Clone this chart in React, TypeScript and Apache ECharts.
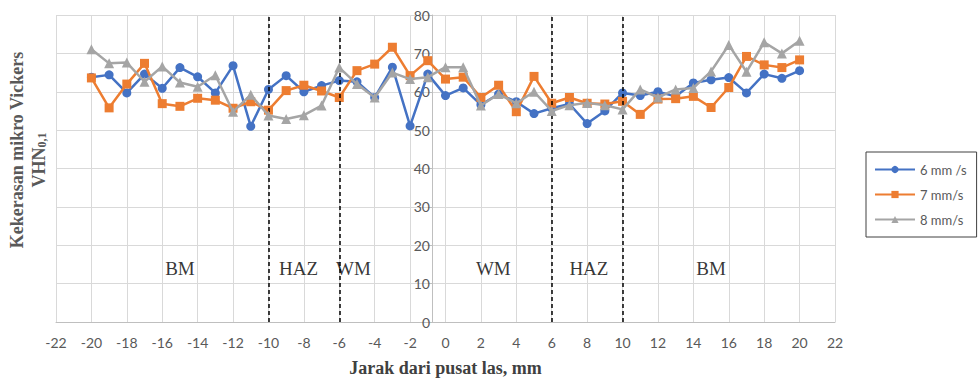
import React, { useEffect, useRef } from "react";
import * as echarts from "echarts";

const distances = [-20, -19, -18, -17, -16, -15, -14, -13, -12, -11, -10, -9, -8, -7, -6, -5, -4, -3, -2, -1, 0, 1, 2, 3, 4, 5, 6, 7, 8, 9, 10, 11, 12, 13, 14, 15, 16, 17, 18, 19, 20];

const speed6 = [63.8, 64.4, 59.7, 64.6, 60.9, 66.3, 63.9, 59.7, 66.8, 51.0, 60.6, 64.2, 60.0, 61.6, 62.9, 62.6, 58.5, 66.4, 51.1, 64.6, 59.0, 61.0, 56.6, 59.4, 57.4, 54.3, 55.7, 56.8, 51.7, 55.0, 59.7, 59.0, 60.0, 58.8, 62.3, 63.1, 63.7, 59.7, 64.6, 63.5, 65.5];

const speed7 = [63.6, 55.8, 62.0, 67.4, 56.9, 56.2, 58.3, 57.8, 55.7, 57.4, 55.2, 60.3, 61.7, 60.2, 58.5, 65.5, 67.2, 71.6, 64.2, 68.1, 63.3, 63.8, 58.5, 61.7, 54.8, 64.0, 57.0, 58.5, 57.0, 56.8, 57.5, 54.1, 58.1, 58.2, 58.8, 55.9, 61.1, 69.2, 67.0, 66.3, 68.3];

const speed8 = [71.1, 67.4, 67.6, 62.6, 66.6, 62.4, 61.3, 64.3, 54.8, 59.2, 53.8, 52.9, 53.9, 56.4, 66.3, 62.0, 58.5, 65.0, 63.3, 63.8, 66.4, 66.4, 56.4, 59.4, 57.0, 60.0, 55.0, 56.5, 57.1, 56.5, 55.4, 60.6, 58.5, 60.6, 61.0, 65.3, 72.2, 65.2, 72.9, 70.0, 73.3];

const seriesNames = ["6 mm /s", "7 mm/s", "8 mm/s"];
const zoneBoundaries = [-10, -6, 6, 10];
const zoneNames = ["BM", "HAZ", "WM", "WM", "HAZ", "BM"];
const zoneLabelX = [-15.0, -8.3, -5.2, 2.7, 8.1, 15.0];
const zoneLabelY = [14, 14, 14, 14, 14, 14];

const xMin = -22;
const xMax = 22;
const xStep = 2;
const yMin = 0;
const yMax = 80;
const yStep = 10;

const COLORS = ["#4472C4", "#ED7D31", "#A5A5A5"];
const SYMBOLS = ["circle", "rect", "triangle"];
const SIZES = [9, 9, 10];
const sans = "Lato, 'Noto Sans', sans-serif";
const serif = "'Liberation Serif', 'DejaVu Serif', serif";

export default function App() {
  const ref = useRef<HTMLDivElement>(null);
  useEffect(() => {
    if (!ref.current) return;
    const chart = echarts.init(ref.current, null, { renderer: "svg" });
    const allSeries = [speed6, speed7, speed8];
    const lineSeries: any[] = allSeries.map((vals, i) => ({
      name: seriesNames[i],
      type: "line",
      data: vals.map((v, j) => [distances[j], v]),
      symbol: SYMBOLS[i],
      symbolSize: SIZES[i],
      showSymbol: true,
      itemStyle: { color: COLORS[i] },
      lineStyle: { color: COLORS[i], width: 2.5 },
      z: 3 + i,
    }));
    lineSeries[0].markLine = {
      silent: true,
      symbol: "none",
      label: { show: false },
      lineStyle: { color: "#000", type: [4, 3], width: 1.5 },
      data: zoneBoundaries.map((x) => ({ xAxis: x })),
    };
    const zoneSeries = {
      name: "zones",
      type: "scatter",
      symbolSize: 0,
      silent: true,
      data: zoneNames.map((n, i) => ({ name: n, value: [zoneLabelX[i], zoneLabelY[i]] })),
      label: {
        show: true,
        position: "inside",
        formatter: (p: any) => p.name,
        color: "#000",
        fontFamily: serif,
        fontSize: 19,
      },
      z: 10,
    };
    chart.setOption({
      animation: false,
      backgroundColor: "#fff",
      grid: { left: 56, right: 145, top: 15, bottom: 61, containLabel: false },
      xAxis: {
        type: "value",
        min: xMin,
        max: xMax,
        interval: xStep,
        name: "Jarak dari pusat las, mm",
        nameLocation: "middle",
        nameGap: 37,
        nameTextStyle: { fontFamily: serif, fontWeight: "bold", fontSize: 18, color: "#404040" },
        axisLine: { onZero: false, lineStyle: { color: "#bfbfbf", width: 1 } },
        axisTick: { show: false },
        axisLabel: { color: "#595959", fontFamily: sans, fontSize: 14, margin: 13 },
        splitLine: { show: true, lineStyle: { color: "#d9d9d9", width: 1 } },
      },
      yAxis: {
        type: "value",
        min: yMin,
        max: yMax,
        interval: yStep,
        position: "left",
        offset: -376,
        axisLine: { show: true, onZero: false, lineStyle: { color: "#bfbfbf", width: 1 } },
        axisTick: { show: true, length: 4, lineStyle: { color: "#bfbfbf" } },
        axisLabel: { color: "#595959", fontFamily: sans, fontSize: 14, margin: 2 },
        splitLine: { show: true, lineStyle: { color: "#d9d9d9", width: 1 } },
      },
      legend: {
        data: seriesNames,
        orient: "vertical",
        left: 866,
        top: 152,
        padding: [11, 10, 11, 8],
        itemGap: 12,
        itemWidth: 40,
        itemHeight: 9,
        borderColor: "#404040",
        borderWidth: 1,
        textStyle: { color: "#595959", fontFamily: sans, fontSize: 13 },
      },
      graphic: [
        {
          type: "text",
          x: 17,
          y: 150,
          rotation: Math.PI / 2,
          style: {
            text: "Kekerasan mikro Vickers",
            fill: "#595959",
            font: `bold 18px ${serif}`,
            align: "center",
            verticalAlign: "middle",
          },
        },
        {
          type: "text",
          x: 38,
          y: 160,
          rotation: Math.PI / 2,
          style: {
            text: "{a|VHN}{b|0,1}",
            align: "center",
            verticalAlign: "middle",
            rich: {
              a: { fill: "#595959", fontFamily: serif, fontWeight: "bold", fontSize: 18, verticalAlign: "bottom", lineHeight: 20 },
              b: { fill: "#595959", fontFamily: serif, fontWeight: "bold", fontSize: 12, verticalAlign: "bottom", lineHeight: 16, padding: [7, 0, 0, 0] },
            },
          },
        },
      ],
      series: [...lineSeries, zoneSeries],
    });
    return () => chart.dispose();
  }, []);
  return (
    <div
      ref={ref}
      style={{ position: "absolute", left: 0, top: 0, width: 980, height: 383 }}
    />
  );
}
